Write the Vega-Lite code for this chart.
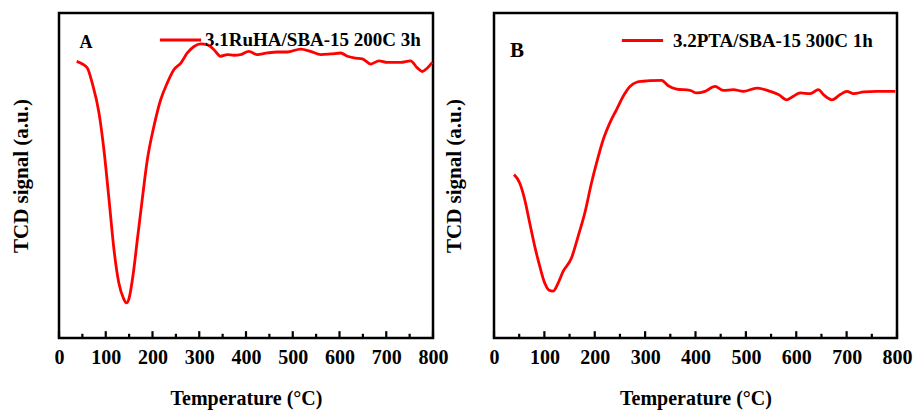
{
  "$schema": "https://vega.github.io/schema/vega-lite/v6.json",
  "padding": {"left": 8, "top": 11, "right": 5, "bottom": 5},
  "background": "white",
  "spacing": -9,
  "config": {
    "view": {"stroke": "black", "strokeWidth": 2.5},
    "font": "Liberation Serif",
    "legend": {
      "labelFont": "Liberation Serif", "labelFontWeight": "bold", "labelFontSize": 19, "labelColor": "black", "labelLimit": 0,
      "symbolType": "stroke", "symbolStrokeWidth": 3, "symbolSize": 1700, "padding": 0, "title": null
    }
  },
  "datasets": {
    "ticks": [
      {"T": 0, "major": true}, {"T": 50, "major": false}, {"T": 100, "major": true}, {"T": 150, "major": false},
      {"T": 200, "major": true}, {"T": 250, "major": false}, {"T": 300, "major": true}, {"T": 350, "major": false},
      {"T": 400, "major": true}, {"T": 450, "major": false}, {"T": 500, "major": true}, {"T": 550, "major": false},
      {"T": 600, "major": true}, {"T": 650, "major": false}, {"T": 700, "major": true}, {"T": 750, "major": false},
      {"T": 800, "major": true}
    ],
    "a": [
      {"T": 37.8, "v": 85.1}, {"T": 50, "v": 84.3}, {"T": 60.6, "v": 83.1}, {"T": 71, "v": 78.5}, {"T": 85.6, "v": 69.2},
      {"T": 96, "v": 58}, {"T": 107, "v": 42.6}, {"T": 117.6, "v": 27.2}, {"T": 128, "v": 16.9}, {"T": 137.6, "v": 12.3},
      {"T": 144, "v": 10.8}, {"T": 150, "v": 12.3}, {"T": 159, "v": 20}, {"T": 167.6, "v": 30.3}, {"T": 178, "v": 42.6},
      {"T": 189, "v": 54.9}, {"T": 203, "v": 65.1}, {"T": 217.5, "v": 73.3}, {"T": 231.7, "v": 78.5}, {"T": 246, "v": 82.6},
      {"T": 260.6, "v": 84.6}, {"T": 274.5, "v": 87.7}, {"T": 288.8, "v": 89.7}, {"T": 303, "v": 90.5}, {"T": 317, "v": 90.3},
      {"T": 331.5, "v": 88.7}, {"T": 345.8, "v": 86.7}, {"T": 360, "v": 87.2}, {"T": 374, "v": 87}, {"T": 388.6, "v": 87.2},
      {"T": 406, "v": 88.2}, {"T": 424, "v": 87.2}, {"T": 445.6, "v": 87.7}, {"T": 467, "v": 88}, {"T": 488, "v": 88},
      {"T": 517, "v": 88.9}, {"T": 538, "v": 88.2}, {"T": 560, "v": 87.2}, {"T": 581, "v": 87.4}, {"T": 602.5, "v": 87.7},
      {"T": 617, "v": 86.7}, {"T": 631, "v": 86.2}, {"T": 649, "v": 85.9}, {"T": 667, "v": 84.3}, {"T": 684.5, "v": 85.3},
      {"T": 702, "v": 84.8}, {"T": 731, "v": 84.8}, {"T": 752, "v": 85.3}, {"T": 766.5, "v": 83.1}, {"T": 777, "v": 82},
      {"T": 788, "v": 83.1}, {"T": 798.6, "v": 84.8}
    ],
    "b": [
      {"T": 39.8, "v": 50.3}, {"T": 51, "v": 47.7}, {"T": 61, "v": 42.6}, {"T": 70.9, "v": 35.4}, {"T": 80.9, "v": 28.2},
      {"T": 90.8, "v": 22.1}, {"T": 100.7, "v": 16.9}, {"T": 109.4, "v": 14.7}, {"T": 117.3, "v": 14.4}, {"T": 127.3, "v": 16.9},
      {"T": 137.2, "v": 20.5}, {"T": 153.8, "v": 24.6}, {"T": 167, "v": 31.3}, {"T": 180.3, "v": 38.5}, {"T": 193.5, "v": 47.7},
      {"T": 203.5, "v": 53.8}, {"T": 216.7, "v": 61}, {"T": 230, "v": 66.2}, {"T": 243.3, "v": 70.3}, {"T": 256.5, "v": 74.4},
      {"T": 269.9, "v": 77.4}, {"T": 283, "v": 78.7}, {"T": 296.3, "v": 79}, {"T": 309.5, "v": 79.2}, {"T": 332.7, "v": 79.3},
      {"T": 346, "v": 77.6}, {"T": 362.5, "v": 76.6}, {"T": 389, "v": 76.2}, {"T": 402.3, "v": 75.4}, {"T": 419, "v": 75.9},
      {"T": 438.8, "v": 77.4}, {"T": 455, "v": 76.2}, {"T": 475, "v": 76.4}, {"T": 495, "v": 75.9}, {"T": 521.6, "v": 76.9},
      {"T": 548, "v": 75.9}, {"T": 564.7, "v": 74.9}, {"T": 581.3, "v": 73.3}, {"T": 594.5, "v": 74.4}, {"T": 607.8, "v": 75.4},
      {"T": 627.7, "v": 75.2}, {"T": 644, "v": 76.4}, {"T": 654, "v": 74.9}, {"T": 670.8, "v": 73.3}, {"T": 687.3, "v": 74.9},
      {"T": 700.6, "v": 75.9}, {"T": 713.8, "v": 75.2}, {"T": 733.7, "v": 75.7}, {"T": 760, "v": 75.9}, {"T": 796.7, "v": 75.9}
    ]
  },
  "hconcat": [
    {
      "width": 374, "height": 325,
      "layer": [
        {
          "data": {"name": "a"},
          "transform": [{"calculate": "'3.1RuHA/SBA-15 200C 3h'", "as": "s"}],
          "mark": {"type": "line", "strokeWidth": 2.8, "interpolate": "monotone"},
          "encoding": {
            "x": {"field": "T", "type": "quantitative", "scale": {"domain": [0, 800], "nice": false},
              "axis": {"title": "Temperature (°C)", "titleFont": "Liberation Serif", "titleFontWeight": "bold", "titleFontSize": 20, "titleColor": "black", "titlePadding": 21,
                "values": [0,100,200,300,400,500,600,700,800], "labelFlush": false, "labelPadding": 9,
                "labelFont": "Liberation Serif", "labelFontWeight": "bold", "labelFontSize": 20, "labelColor": "black",
                "grid": false, "domain": false, "ticks": true, "tickOpacity": 0, "tickSize": 12, "offset": -12}},
            "y": {"field": "v", "type": "quantitative", "scale": {"domain": [0, 100], "nice": false},
              "axis": {"title": "TCD signal (a.u.)", "titleFont": "Liberation Serif", "titleFontWeight": "bold", "titleFontSize": 21, "titleColor": "black",
                "labels": false, "ticks": false, "domain": false, "grid": false, "titlePadding": 28}},
            "color": {"field": "s", "type": "nominal", "scale": {"range": ["#ff0000"]},
              "legend": {"orient": "none", "legendX": 99, "legendY": 4.5, "labelOffset": 2}}
          }
        },
        {
          "data": {"name": "ticks"},
          "transform": [{"filter": "datum.major"}],
          "mark": {"type": "rule", "color": "black", "strokeWidth": 2.2},
          "encoding": {"x": {"field": "T", "type": "quantitative"}, "y": {"datum": 0}, "y2": {"datum": 2.1}}
        },
        {
          "data": {"name": "ticks"},
          "transform": [{"filter": "!datum.major"}],
          "mark": {"type": "rule", "color": "black", "strokeWidth": 2.2},
          "encoding": {"x": {"field": "T", "type": "quantitative"}, "y": {"datum": 0}, "y2": {"datum": 1.3}}
        },
        {
          "data": {"values": [{"T": 57.8, "v": 90.8, "t": "A"}]},
          "mark": {"type": "text", "font": "Liberation Serif", "fontWeight": "bold", "fontSize": 18, "color": "black"},
          "encoding": {"x": {"field": "T", "type": "quantitative"}, "y": {"field": "v", "type": "quantitative"}, "text": {"field": "t"}}
        }
      ]
    },
    {
      "width": 403, "height": 325,
      "layer": [
        {
          "data": {"name": "b"},
          "transform": [{"calculate": "'3.2PTA/SBA-15 300C 1h'", "as": "s"}],
          "mark": {"type": "line", "strokeWidth": 2.8, "interpolate": "monotone"},
          "encoding": {
            "x": {"field": "T", "type": "quantitative", "scale": {"domain": [0, 800], "nice": false},
              "axis": {"title": "Temperature (°C)", "titleFont": "Liberation Serif", "titleFontWeight": "bold", "titleFontSize": 20, "titleColor": "black", "titlePadding": 21,
                "values": [0,100,200,300,400,500,600,700,800], "labelFlush": false, "labelPadding": 9,
                "labelFont": "Liberation Serif", "labelFontWeight": "bold", "labelFontSize": 20, "labelColor": "black",
                "grid": false, "domain": false, "ticks": true, "tickOpacity": 0, "tickSize": 12, "offset": -12}},
            "y": {"field": "v", "type": "quantitative", "scale": {"domain": [0, 100], "nice": false},
              "axis": {"title": "TCD signal (a.u.)", "titleFont": "Liberation Serif", "titleFontWeight": "bold", "titleFontSize": 21, "titleColor": "black",
                "labels": false, "ticks": false, "domain": false, "grid": false, "titlePadding": 30}},
            "color": {"field": "s", "type": "nominal", "scale": {"range": ["#ff0000"]},
              "legend": {"orient": "none", "legendX": 126, "legendY": 5, "labelOffset": 8}}
          }
        },
        {
          "data": {"name": "ticks"},
          "transform": [{"filter": "datum.major"}],
          "mark": {"type": "rule", "color": "black", "strokeWidth": 2.2},
          "encoding": {"x": {"field": "T", "type": "quantitative"}, "y": {"datum": 0}, "y2": {"datum": 2.1}}
        },
        {
          "data": {"name": "ticks"},
          "transform": [{"filter": "!datum.major"}],
          "mark": {"type": "rule", "color": "black", "strokeWidth": 2.2},
          "encoding": {"x": {"field": "T", "type": "quantitative"}, "y": {"datum": 0}, "y2": {"datum": 1.3}}
        },
        {
          "data": {"values": [{"T": 45.7, "v": 88.3, "t": "B"}]},
          "mark": {"type": "text", "font": "Liberation Serif", "fontWeight": "bold", "fontSize": 21, "color": "black"},
          "encoding": {"x": {"field": "T", "type": "quantitative"}, "y": {"field": "v", "type": "quantitative"}, "text": {"field": "t"}}
        }
      ]
    }
  ],
  "resolve": {"scale": {"color": "independent"}, "legend": {"color": "independent"}}
}
